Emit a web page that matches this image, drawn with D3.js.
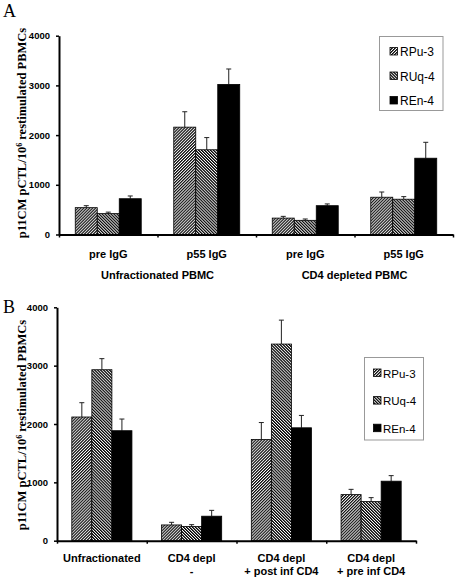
<!DOCTYPE html>
<html>
<head>
<meta charset="utf-8">
<script src="https://cdn.jsdelivr.net/npm/d3@7/dist/d3.min.js"></script>
<style>
  html, body { margin: 0; padding: 0; background: #fff; }
  svg { display: block; }
</style>
</head>
<body>
<script>
// ---------- data ----------
const seriesNames = ["RPu-3", "RUq-4", "REn-4"];
const yTicks = [0, 1000, 2000, 3000, 4000];

// Panel A
const catsA = ["pre IgG", "p55 IgG", "pre IgG", "p55 IgG"];
const groupsA = ["Unfractionated PBMC", "CD4 depleted PBMC"];
const rpu3A = [540, 2160, 330, 750];
const rpu3ErrA = [40, 310, 35, 105];
const ruq4A = [420, 1705, 285, 710];
const ruq4ErrA = [30, 245, 27, 52];
const ren4A = [720, 3020, 580, 1535];
const ren4ErrA = [55, 310, 35, 320];

// Panel B
const catsB = ["Unfractionated", "CD4 depl", "CD4 depl", "CD4 depl"];
const catsB2 = ["", "-", "+ post inf CD4", "+ pre inf CD4"];
const rpu3B = [2120, 270, 1735, 790];
const rpu3ErrB = [245, 45, 290, 90];
const ruq4B = [2930, 245, 3370, 670];
const ruq4ErrB = [190, 30, 410, 68];
const ren4B = [1885, 420, 1935, 1020];
const ren4ErrB = [200, 100, 212, 95];

// ---------- drawing ----------
const svg = d3.select("body").append("svg")
  .attr("width", 455).attr("height", 578);

const defs = svg.append("defs");
function hatch(id, angle, sw) {
  const p = defs.append("pattern")
    .attr("id", id)
    .attr("patternUnits", "userSpaceOnUse")
    .attr("width", 2.1).attr("height", 4)
    .attr("patternTransform", `rotate(${angle})`);
  p.append("rect").attr("width", 2.1).attr("height", 4).attr("fill", "#fff");
  p.append("line").attr("x1", 0.6).attr("x2", 0.6).attr("y1", 0).attr("y2", 4)
    .attr("stroke", "#000").attr("stroke-width", sw);
}
hatch("hatchA", 45, 1.15);
hatch("hatchB", -45, 1.25);
const fills = { "RPu-3": "url(#hatchA)", "RUq-4": "url(#hatchB)", "REn-4": "#000" };

const SANS = "'Liberation Sans', Arial, sans-serif";
const SERIF = "'Liberation Serif', 'Times New Roman', serif";

function panel(cfg) {
  const g = svg.append("g");
  const x = d3.scaleBand().domain(d3.range(cfg.cats.length)).range(cfg.xr).padding(0);
  const y = d3.scaleLinear().domain([0, 4000]).range(cfg.yr);
  const bw = x.bandwidth();
  const xs = d3.scaleBand().domain(seriesNames).range([bw * 0.165, bw * 0.835]).padding(0);

  const series = [
    { name: "RPu-3", v: cfg.s1, e: cfg.e1 },
    { name: "RUq-4", v: cfg.s2, e: cfg.e2 },
    { name: "REn-4", v: cfg.s3, e: cfg.e3 }
  ];

  // error bars
  series.forEach(s => {
    s.v.forEach((v, i) => {
      const cx = x(i) + xs(s.name) + xs.bandwidth() / 2;
      g.append("line").attr("x1", cx).attr("x2", cx)
        .attr("y1", y(v)).attr("y2", y(v + s.e[i]))
        .attr("stroke", "#222").attr("stroke-width", 1);
      g.append("line").attr("x1", cx - 2.5).attr("x2", cx + 2.5)
        .attr("y1", y(v + s.e[i])).attr("y2", y(v + s.e[i]))
        .attr("stroke", "#222").attr("stroke-width", 1);
    });
  });

  // bars
  series.forEach(s => {
    g.selectAll(null).data(s.v).enter().append("rect")
      .attr("x", (d, i) => x(i) + xs(s.name))
      .attr("y", d => y(d))
      .attr("width", xs.bandwidth())
      .attr("height", d => y(0) - y(d))
      .attr("fill", fills[s.name])
      .attr("stroke", "#000").attr("stroke-width", 0.8);
  });

  // y axis
  const ya = g.append("g").attr("transform", `translate(${cfg.xr[0]},0)`)
    .call(d3.axisLeft(y).tickValues(yTicks).tickSize(3).tickSizeOuter(0).tickPadding(6).tickFormat(d3.format("d")));
  ya.select(".domain").attr("stroke", "#000").attr("stroke-width", 2);
  ya.selectAll(".tick line").attr("stroke", "#000").attr("stroke-width", 1.5);
  ya.selectAll(".tick text").attr("font-family", SANS).attr("font-weight", "bold")
    .attr("font-size", "9.5px").attr("fill", "#000");

  // x axis (ticks at group boundaries)
  const xb = d3.scaleLinear().domain([0, cfg.cats.length]).range(cfg.xr);
  const xa = g.append("g").attr("transform", `translate(0,${cfg.yr[0]})`)
    .call(d3.axisBottom(xb).tickValues(d3.range(cfg.cats.length + 1)).tickSize(3).tickSizeOuter(0).tickFormat(""));
  xa.select(".domain").attr("stroke", "#000").attr("stroke-width", 2);
  xa.selectAll(".tick line").attr("stroke", "#000").attr("stroke-width", 1.5);

  // category labels
  g.selectAll(null).data(cfg.cats).enter().append("text")
    .attr("x", (d, i) => x(i) + bw / 2).attr("y", cfg.row1)
    .attr("text-anchor", "middle").attr("font-family", SANS).attr("font-weight", "bold")
    .attr("font-size", "11px").text(d => d);
  if (cfg.cats2) {
    g.selectAll(null).data(cfg.cats2).enter().append("text")
      .attr("x", (d, i) => x(i) + bw / 2).attr("y", cfg.row2)
      .attr("text-anchor", "middle").attr("font-family", SANS).attr("font-weight", "bold")
      .attr("font-size", "11px").text(d => d);
  }
  if (cfg.groups) {
    g.selectAll(null).data(cfg.groups).enter().append("text")
      .attr("x", (d, i) => (x(2 * i) + x(2 * i + 1) + bw) / 2).attr("y", cfg.row2)
      .attr("text-anchor", "middle").attr("font-family", SANS).attr("font-weight", "bold")
      .attr("font-size", "11px").text(d => d);
  }

  // y title
  const yt = g.append("text")
    .attr("transform", `translate(${cfg.ytx},${cfg.yty}) rotate(-90)`)
    .attr("text-anchor", "middle").attr("font-family", SERIF).attr("font-weight", "bold")
    .attr("font-size", "12.5px");
  yt.append("tspan").text("p11CM pCTL/10");
  yt.append("tspan").attr("font-size", "8px").attr("dy", "-4").text("6");
  yt.append("tspan").attr("dy", "4").text(" restimulated PBMCs");

  // panel letter
  g.append("text").attr("x", cfg.lx).attr("y", cfg.ly)
    .attr("font-family", SERIF).attr("font-size", "18px").text(cfg.letter);

  // legend
  const L = cfg.leg;
  g.append("rect").attr("x", L.x).attr("y", L.y).attr("width", L.w).attr("height", L.h)
    .attr("fill", "#fff").attr("stroke", "#999").attr("stroke-width", 1);
  seriesNames.forEach((n, i) => {
    const by = L.b0 + i * L.step;
    g.append("rect").attr("x", L.sx).attr("y", by - 8.5).attr("width", 7.5).attr("height", 7.5)
      .attr("fill", fills[n]).attr("stroke", "#000").attr("stroke-width", 0.8);
    g.append("text").attr("x", L.tx).attr("y", by)
      .attr("font-family", SANS).attr("font-size", L.fs).text(n);
  });
}

panel({
  letter: "A", lx: 3, ly: 17,
  cats: catsA, groups: groupsA,
  s1: rpu3A, e1: rpu3ErrA, s2: ruq4A, e2: ruq4ErrA, s3: ren4A, e3: ren4ErrA,
  xr: [59, 453], yr: [234.5, 35.7],
  row1: 258, row2: 278.5,
  ytx: 26, yty: 133,
  leg: { x: 379.5, y: 36.5, w: 63.5, h: 74, sx: 390, tx: 400, b0: 56, step: 24.5, fs: "12px" }
});

panel({
  letter: "B", lx: 3, ly: 313,
  cats: catsB, cats2: catsB2,
  s1: rpu3B, e1: rpu3ErrB, s2: ruq4B, e2: ruq4ErrB, s3: ren4B, e3: ren4ErrB,
  xr: [57, 416], yr: [540.7, 307.3],
  row1: 562, row2: 575,
  ytx: 26, yty: 425,
  leg: { x: 364.5, y: 357.5, w: 59, h: 82.5, sx: 373.5, tx: 383, b0: 377.5, step: 27.6, fs: "11.5px" }
});
</script>
</body>
</html>
